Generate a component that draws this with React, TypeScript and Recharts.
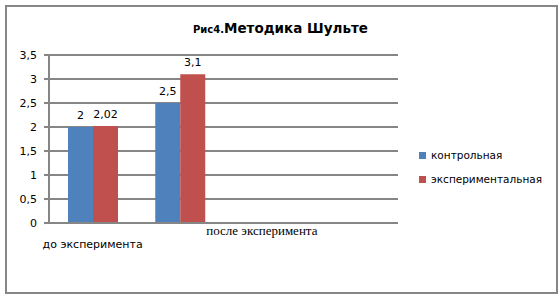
import React from 'react';
import { BarChart, Bar, XAxis, YAxis, CartesianGrid, LabelList } from 'recharts';

const categories = ['до эксперимента', 'после эксперимента', '', ''];
const control = [2, 2.5];
const experimental = [2.02, 3.1];
const yTicks = [0, 0.5, 1, 1.5, 2, 2.5, 3, 3.5];
const series = [
  { key: 'control', name: 'контрольная', color: '#4F81BD' },
  { key: 'experimental', name: 'экспериментальная', color: '#C0504D' },
];

const data = categories.map((name, i) => ({
  key: 'c' + i,
  name,
  control: control[i],
  experimental: experimental[i],
}));

const GRAY = '#868686';
const fmt = (v: any) => (v === undefined || v === null ? '' : String(v).replace('.', ','));

const CatTick = (props: any) => {
  const { x, y, index } = props;
  const label = categories[index] ?? '';
  if (!label) return null;
  if (index === 0) {
    return (
      <text x={x} y={y + 17} textAnchor="middle" fontFamily="DejaVu Sans" fontSize={11} fill="#000">
        {label}
      </text>
    );
  }
  return (
    <text x={x + 82} y={y + 4} textAnchor="middle" fontFamily="Liberation Serif" fontSize={13} fill="#000">
      {label}
    </text>
  );
};

export default function App() {
  return (
    <div style={{ position: 'absolute', left: 0, top: 0, width: 560, height: 298, background: '#fff' }}>
      <div style={{ position: 'absolute', left: 5, top: 5, width: 553, height: 289, border: `2px solid ${GRAY}`, boxSizing: 'border-box' }} />
      <div style={{ position: 'absolute', left: 193, top: 18, whiteSpace: 'nowrap', fontFamily: 'DejaVu Sans', fontWeight: 'bold', color: '#000' }}>
        <span style={{ fontSize: 10 }}>Рис4.</span>
        <span style={{ fontSize: 13.5 }}>Методика Шульте</span>
      </div>
      <div style={{ position: 'absolute', left: 419, top: 143 }}>
        {series.map((s) => (
          <div key={s.key} style={{ display: 'flex', alignItems: 'center', height: 24, fontFamily: 'DejaVu Sans', fontSize: 10.5, color: '#000', whiteSpace: 'nowrap' }}>
            <span style={{ display: 'inline-block', width: 7, height: 7, background: s.color, marginRight: 5 }} />
            {s.name}
          </div>
        ))}
      </div>
      <div style={{ position: 'absolute', left: 0, top: 0 }}>
        <BarChart width={560} height={298} data={data} margin={{ top: 55, right: 162, bottom: 0, left: 0 }} barGap={0} barSize={25}>
          <CartesianGrid vertical={false} stroke={GRAY} strokeWidth={2} />
          <XAxis dataKey="key" tick={<CatTick />} tickLine={false} axisLine={{ stroke: GRAY, strokeWidth: 2 }} height={75} interval={0} />
          <YAxis
            domain={[0, 3.5]}
            ticks={yTicks}
            width={49}
            tickFormatter={fmt}
            tick={{ fontFamily: 'DejaVu Sans', fontSize: 11, fill: '#000' }}
            tickLine={{ stroke: GRAY, strokeWidth: 2 }}
            tickSize={5}
            tickMargin={7}
            axisLine={{ stroke: GRAY, strokeWidth: 2 }}
          />
          {series.map((s) => (
            <Bar key={s.key} dataKey={s.key} name={s.name} fill={s.color} isAnimationActive={false}>
              <LabelList dataKey={s.key} position="top" offset={8} formatter={fmt} style={{ fontFamily: 'DejaVu Sans', fontSize: 11, fill: '#000' }} />
            </Bar>
          ))}
        </BarChart>
      </div>
    </div>
  );
}
